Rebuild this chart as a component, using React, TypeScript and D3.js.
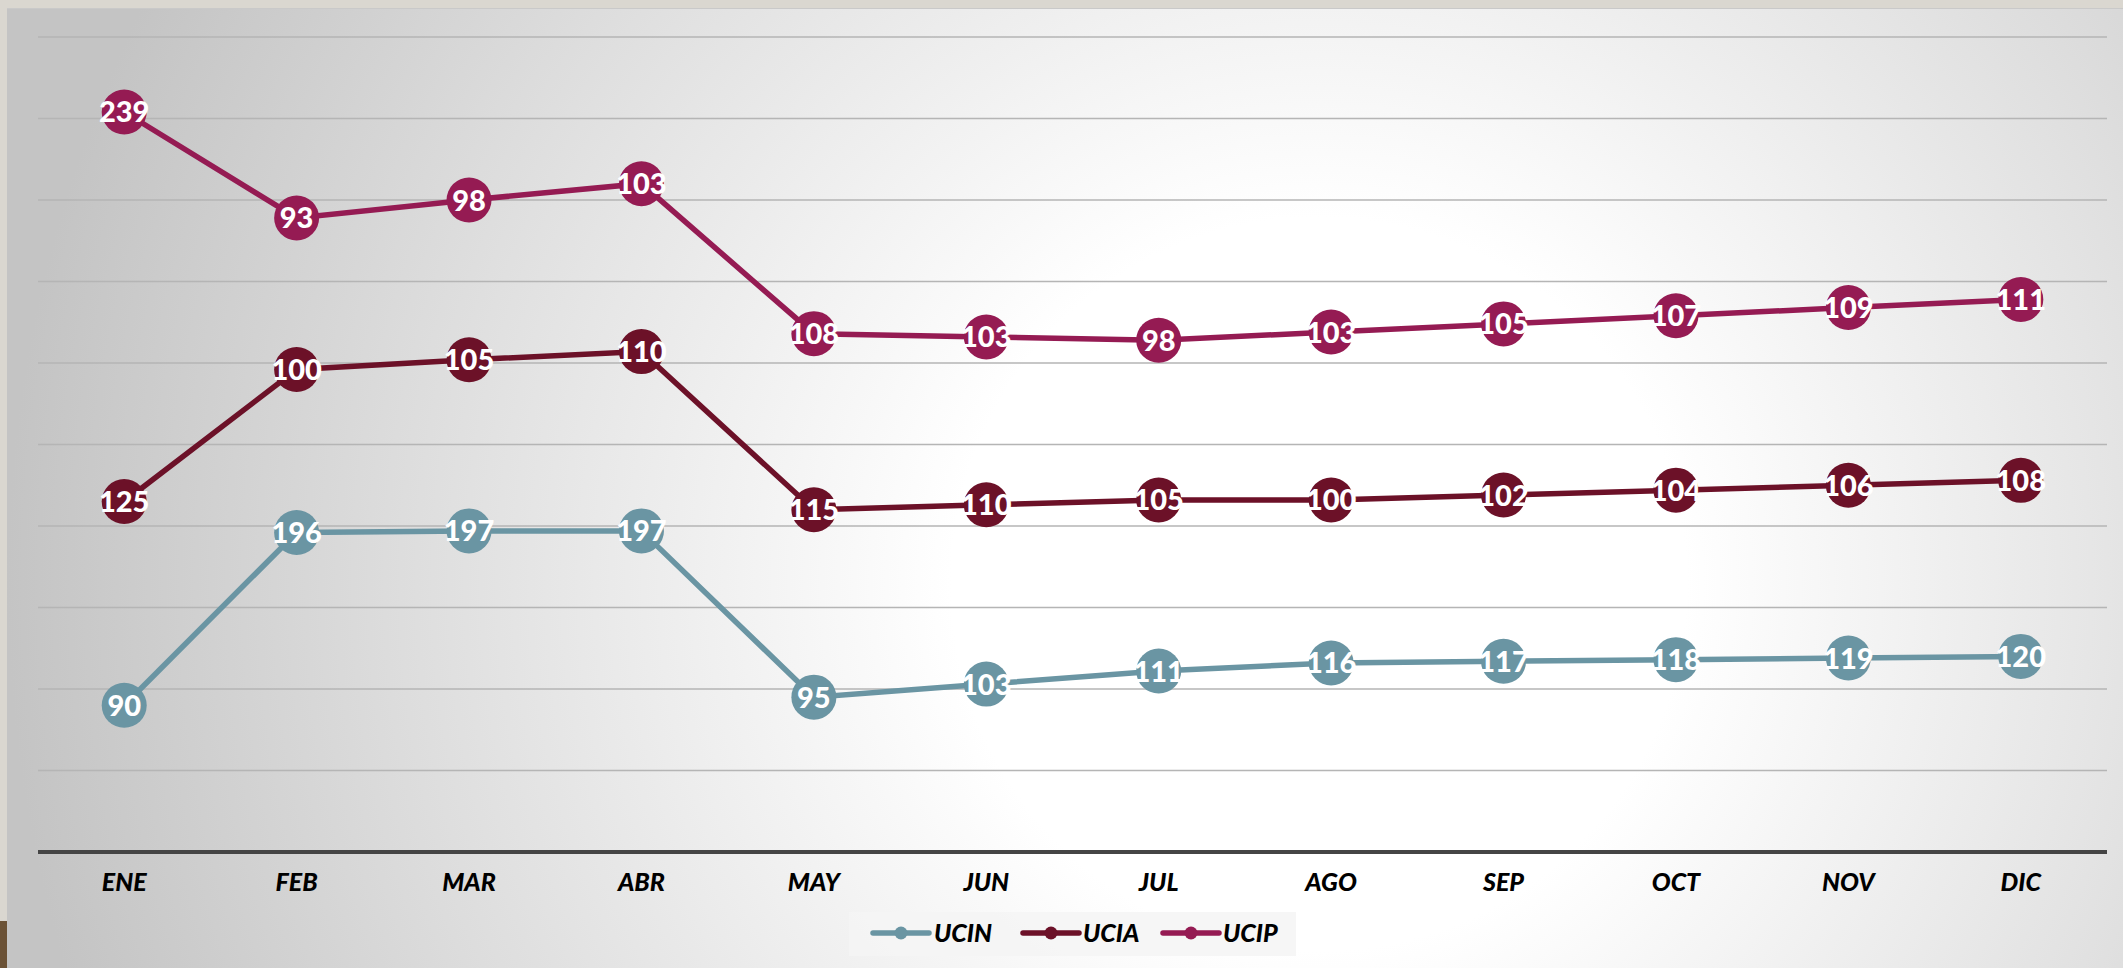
import React from "react";
import * as d3 from "d3";

const months = ["ENE", "FEB", "MAR", "ABR", "MAY", "JUN", "JUL", "AGO", "SEP", "OCT", "NOV", "DIC"];
const ucin = [90, 196, 197, 197, 95, 103, 111, 116, 117, 118, 119, 120];
const ucia = [125, 100, 105, 110, 115, 110, 105, 100, 102, 104, 106, 108];
const ucip = [239, 93, 98, 103, 108, 103, 98, 103, 105, 107, 109, 111];
const seriesNames = ["UCIN", "UCIA", "UCIP"];
const seriesColors = ["#6a95a3", "#6c1128", "#951b53"];
const gridTicks = [50, 100, 150, 200, 250, 300, 350, 400, 450, 500];

const W = 2123;
const H = 968;

export default function App() {
  const x = d3.scalePoint<string>().domain(months).range([38, 2107]).padding(0.5);
  const y = d3.scaleLinear().domain([0, 500]).range([852, 37]);

  const table = months.map((m, i) => ({ m, UCIN: ucin[i], UCIA: ucia[i], UCIP: ucip[i] }));
  const stacked = d3.stack<any>().keys(seriesNames)(table);
  const raw = [ucin, ucia, ucip];

  const line = d3
    .line<any>()
    .x((d: any) => x(d.data.m) as number)
    .y((d: any) => y(d[1]));

  const legendItems = [
    { x0: 873, tx: 934 },
    { x0: 1023, tx: 1083 },
    { x0: 1163, tx: 1223 },
  ];

  return (
    <svg
      width={W}
      height={H}
      style={{ position: "absolute", left: 0, top: 0, display: "block" }}
      fontFamily="Lato, 'Open Sans', sans-serif"
    >
      <defs>
        <radialGradient id="bg" cx="0.62" cy="0.6" r="0.62" gradientTransform="translate(0.62 0.6) scale(1 2.2) translate(-0.62 -0.6)">
          <stop offset="0" stopColor="#ffffff" />
          <stop offset="0.28" stopColor="#ffffff" />
          <stop offset="0.7" stopColor="#dddddd" />
          <stop offset="1" stopColor="#c4c4c4" />
        </radialGradient>
      </defs>
      <rect x={0} y={0} width={W} height={H} fill="#dad7d0" />
      <rect x={0} y={921} width={7} height={47} fill="#6b5236" />
      <rect x={7} y={8} width={W - 7} height={H - 8} fill="url(#bg)" />
      <line x1={7} x2={W} y1={8.5} y2={8.5} stroke="#c9c9c9" strokeWidth={1} />

      {gridTicks.map((t) => (
        <line key={t} x1={38} x2={2107} y1={y(t)} y2={y(t)} stroke="#b5b5b5" strokeWidth={1.6} />
      ))}
      <line x1={38} x2={2107} y1={y(0)} y2={y(0)} stroke="#454545" strokeWidth={4} />

      {months.map((m) => (
        <text
          key={m}
          x={x(m) as number}
          y={891}
          textAnchor="middle"
          fontSize={25}
          fontWeight={900}
          fontStyle="italic"
          fill="#000"
        >
          {m}
        </text>
      ))}

      {stacked.map((s, si) => (
        <path key={si} d={line(s as any) || ""} fill="none" stroke={seriesColors[si]} strokeWidth={5.5} />
      ))}
      {stacked.map((s, si) =>
        s.map((d: any, i: number) => (
          <g key={si + "-" + i}>
            <circle cx={x(d.data.m) as number} cy={y(d[1])} r={22.5} fill={seriesColors[si]} />
            <text
              x={x(d.data.m) as number}
              y={y(d[1]) + 10.5}
              textAnchor="middle"
              fontSize={29}
              fontWeight={900}
              fill="#fff"
            >
              {raw[si][i]}
            </text>
          </g>
        ))
      )}

      <rect x={849} y={912} width={447} height={44} fill="#f5f5f5" opacity={0.85} />
      {seriesNames.map((n, i) => (
        <g key={n}>
          <line
            x1={legendItems[i].x0}
            x2={legendItems[i].x0 + 56}
            y1={933}
            y2={933}
            stroke={seriesColors[i]}
            strokeWidth={5.5}
            strokeLinecap="round"
          />
          <circle cx={legendItems[i].x0 + 28} cy={933} r={6.5} fill={seriesColors[i]} />
          <text x={legendItems[i].tx} y={942} fontSize={25} fontWeight={900} fontStyle="italic" fill="#000">
            {n}
          </text>
        </g>
      ))}
    </svg>
  );
}
